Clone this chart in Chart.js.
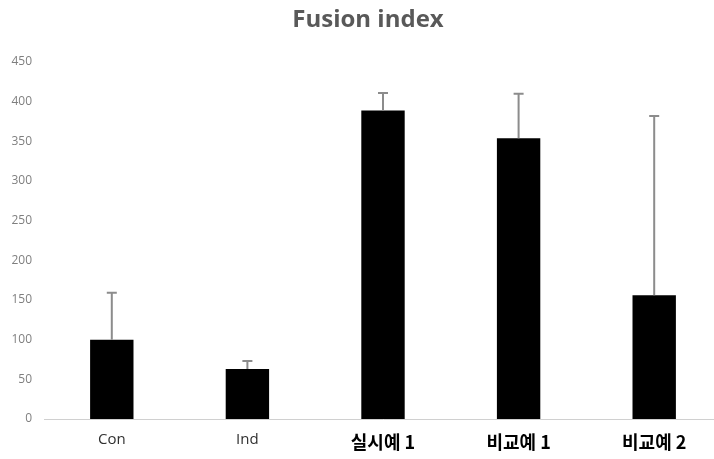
<!DOCTYPE html>
<html>
<head>
<meta charset="utf-8">
<script src="https://cdn.jsdelivr.net/npm/chart.js@4/dist/chart.umd.min.js"></script>
<style>
  html, body { margin: 0; padding: 0; background: #fff; overflow: hidden; }
  #wrap { width: 722px; height: 459px; position: relative; }
</style>
</head>
<body>
<div id="wrap"><canvas id="c"></canvas></div>
<script>
// Fusion index by group: mean values and standard deviations
const categories = ['Con', 'Ind', '실시예 1', '비교예 1', '비교예 2'];
const means = [100, 63, 389, 354, 156];
const stdDevs = [59, 10, 22, 56, 226];
const yTicks = [0, 50, 100, 150, 200, 250, 300, 350, 400, 450];

// Upper error bars drawn from each bar's mean + SD
const errorBars = {
  id: 'errorBars',
  afterDatasetsDraw(chart) {
    const { ctx, scales: { y } } = chart;
    const meta = chart.getDatasetMeta(0);
    ctx.save();
    ctx.strokeStyle = '#8c8c8c';
    ctx.lineWidth = 2;
    meta.data.forEach((bar, i) => {
      const x = bar.x;
      const top = y.getPixelForValue(means[i] + stdDevs[i]);
      const base = y.getPixelForValue(means[i]);
      ctx.beginPath();
      ctx.moveTo(x, base);
      ctx.lineTo(x, top);
      ctx.moveTo(x - 5, top);
      ctx.lineTo(x + 5, top);
      ctx.stroke();
    });
    ctx.restore();
  }
};

new Chart(document.getElementById('c'), {
  type: 'bar',
  data: {
    labels: categories,
    datasets: [{
      data: means,
      backgroundColor: '#000000',
      borderWidth: 0,
      barPercentage: 0.32,
      categoryPercentage: 1.0
    }]
  },
  options: {
    responsive: true,
    maintainAspectRatio: false,
    animation: false,
    layout: { padding: { left: 14, right: 0, top: 0, bottom: 0 } },
    plugins: {
      legend: { display: false },
      tooltip: { enabled: false },
      title: {
        display: true,
        text: 'Fusion index',
        color: '#595959',
        font: { family: 'Open Sans', size: 24, weight: 'bold', lineHeight: 1.2 },
        padding: { top: 6, bottom: 27.2 }
      }
    },
    scales: {
      x: {
        grid: { display: false, drawTicks: false },
        border: { display: true, color: '#d0d0d0', width: 1 },
        ticks: {
          padding: 12,
          color: (c) => c.index < 2 ? '#303030' : '#000000',
          font: (c) => c.index < 2
            ? { family: 'Open Sans', size: 15 }
            : { family: 'Noto Sans CJK KR', size: 18, weight: 'bold' }
        },
        afterFit(s) { s.height = 40; }
      },
      y: {
        min: 0,
        max: 450,
        afterBuildTicks(s) { s.ticks = yTicks.map(v => ({ value: v })); },
        grid: { display: false, drawTicks: false },
        border: { display: false },
        ticks: {
          padding: 12,
          color: '#7f7f7f',
          font: { family: 'Open Sans', size: 12 }
        },
        afterFit(s) {
          s.width = 30;
          // let the tick labels run into the left margin instead of clipping them
          s._computeLabelArea = () => undefined;
        }
      }
    }
  },
  plugins: [errorBars]
});
</script>
</body>
</html>
